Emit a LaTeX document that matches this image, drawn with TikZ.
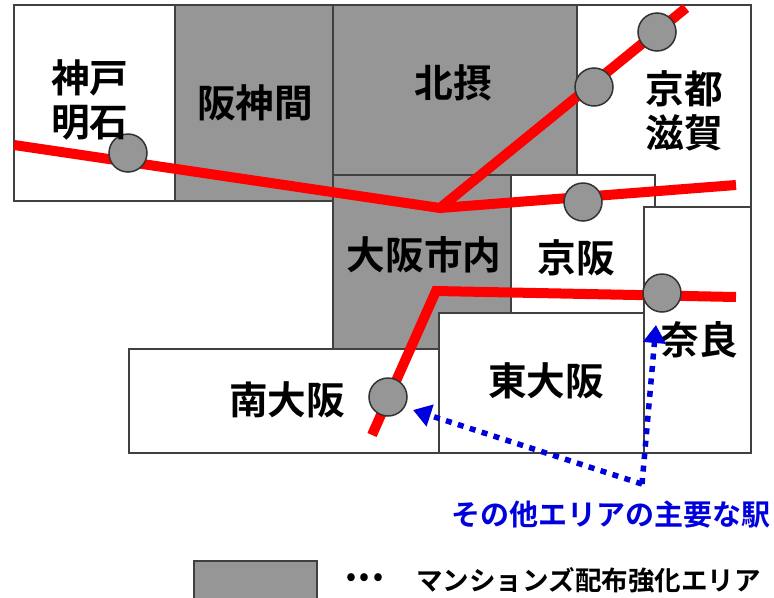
\documentclass[tikz,border=0pt]{standalone}
\usepackage{fontspec}
\usetikzlibrary{arrows.meta}
\setmainfont{Noto Sans CJK JP Bold}
\definecolor{areagray}{RGB}{150,150,150}
\definecolor{lineblue}{RGB}{0,0,220}
\tikzset{
    area/.style={draw=black!75, line width=0.35mm, anchor=north west, inner sep=0pt},
    region/.style={font=\fontsize{22}{25}\selectfont, align=center, inner sep=0pt},
    station/.style={circle, draw=black!80, fill=areagray, line width=0.3mm, minimum size=7.6mm, inner sep=0pt},
    railway/.style={red, line width=2mm, line join=miter},
    pointer/.style={lineblue, line width=1.1mm, dash pattern=on 1.2mm off 1.3mm, -{Triangle[width=4.4mm,length=3.6mm]}}
}
\begin{document}
\begin{tikzpicture}[x=0.2mm, y=-0.2mm]
        \useasboundingbox (0,0) rectangle (774,598);
        % areas
        \node[area, fill=white, minimum width=32.2mm, minimum height=39.2mm](kobe) at (13,4) {};
        \node[area, fill=areagray, minimum width=31.6mm, minimum height=39.2mm](hanshin) at (174,4) {};
        \node[area, fill=white, minimum width=34.8mm, minimum height=40.4mm](kyoto) at (576,4) {};
        \node[area, fill=areagray, minimum width=48.8mm, minimum height=34mm](hokusetsu) at (332,4) {};
        \node[area, fill=areagray, minimum width=35.6mm, minimum height=34.8mm](shinai) at (332,174) {};
        \node[area, fill=white, minimum width=28.8mm, minimum height=27.6mm](keihan) at (510,174) {};
        \node[area, fill=white, minimum width=62mm, minimum height=20.8mm](minami) at (128,348) {};
        \node[area, fill=white, minimum width=21.4mm, minimum height=49.2mm](nara) at (643,206) {};
        \node[area, fill=white, minimum width=41mm, minimum height=28mm](higashi) at (438,312) {};
        \node[area, fill=areagray, minimum width=24.6mm, minimum height=9mm](legend) at (193,560) {};
        % railways
        \coordinate (west) at (14,145);
        \coordinate (hub) at (440,208);
        \coordinate (northeast) at (686,8);
        \coordinate (east) at (736,185);
        \coordinate (south) at (372,435);
        \coordinate (bend) at (436,291);
        \coordinate (neara) at (736,297);
        \draw[railway] (west) -- (hub) -- (northeast);
        \draw[railway] (hub) -- (east);
        \draw[railway] (south) -- (bend) -- (neara);
        % stations
        \node[station](akashi) at (128,153) {};
        \node[station](takatsuki) at (594,87) {};
        \node[station](yamazaki) at (657,32) {};
        \node[station](hirakata) at (583,202) {};
        \node[station](ikoma) at (662,293) {};
        \node[station](sakai) at (388,397) {};
        % labels
        \node[region](kobetext) at (90,100) {神戸\\明石};
        \node[region](hanshintext) at (255,103) {阪神間};
        \node[region](hokusetsutext) at (453,83) {北摂};
        \node[region](kyototext) at (684,111) {京都\\滋賀};
        \node[region](shinaitext) at (424,255) {大阪市内};
        \node[region](keihantext) at (576,258) {京阪};
        \node[region](minamitext) at (287,400) {南大阪};
        \node[region](higashitext) at (546,381) {東大阪};
        \node[region](naratext) at (699,340) {奈良};
        % pointers
        \coordinate (fork) at (642,484);
        \coordinate (tosakai) at (413,410);
        \coordinate (toikoma) at (656,325);
        \draw[pointer] (fork) -- (tosakai);
        \draw[pointer] (fork) -- (toikoma);
        \node[lineblue, font=\fontsize{16.5}{20}\selectfont, anchor=west, inner sep=0pt](others) at (451,515) {その他エリアの主要な駅};
        \node[font=\fontsize{15.1}{18}\selectfont, anchor=west, inner sep=0pt](legendtext) at (416,580) {マンションズ配布強化エリア};
        \node[font=\fontsize{15}{18}\selectfont, anchor=west, inner sep=0pt](dots) at (346,580) {•\hspace{2pt}•\hspace{2pt}•};
\end{tikzpicture}
\end{document}
